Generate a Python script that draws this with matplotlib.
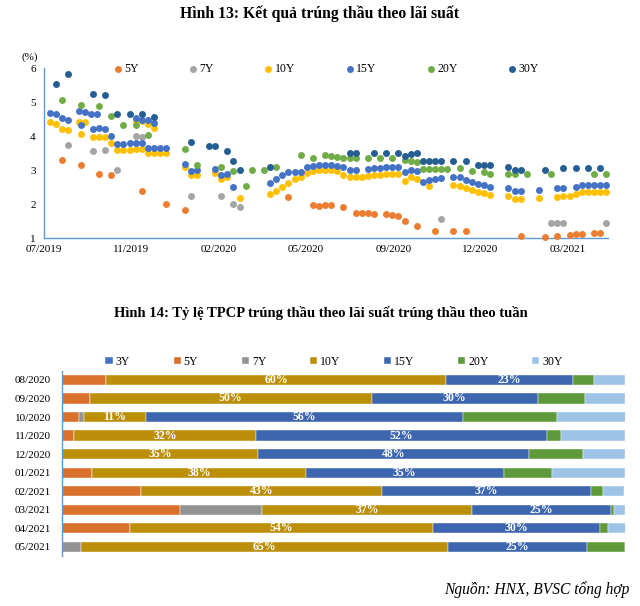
import matplotlib.pyplot as plt
import numpy as np

plt.rcParams['font.family'] = ['Liberation Serif', 'DejaVu Serif']

# ---- Hinh 13: lai suat trung thau (ngay tinh tu 31/07/2019) ----
d5 = [21, 42, 63, 77, 112, 140, 161, 280, 308, 315, 322, 329, 343, 357, 364, 371, 378, 392, 399, 406, 413,
      427, 448, 469, 483, 546, 574, 588, 602, 609, 616, 630, 637]
v5 = [3.30, 3.15, 2.89, 2.84, 2.37, 2.01, 1.81, 2.20, 1.98, 1.93, 1.96, 1.96, 1.92, 1.75, 1.74, 1.73, 1.71,
      1.71, 1.68, 1.64, 1.50, 1.35, 1.22, 1.22, 1.22, 1.07, 1.03, 1.06, 1.08, 1.11, 1.13, 1.16, 1.16]

d7 = [28, 56, 70, 84, 105, 112, 168, 203, 217, 224, 455, 581, 588, 595, 644]
v7 = [3.75, 3.55, 3.58, 3.00, 4.01, 3.96, 2.24, 2.25, 2.01, 1.90, 1.55, 1.45, 1.45, 1.45, 1.45]

d10 = [7, 14, 21, 28, 40, 42, 47, 56, 63, 70, 77, 84, 91, 98, 105, 105, 112, 112, 119, 119, 126, 126, 133, 140,
       161, 168, 175, 196, 203, 210, 224, 259, 266, 273, 280, 287, 294, 301, 308, 315, 322, 329, 336, 343, 350,
       357, 364, 371, 378, 385, 392, 399, 406, 413, 420, 427, 441, 469, 476, 483, 490, 497, 504, 511, 532, 539,
       546, 567, 588, 595, 602, 609, 616, 623, 630, 637, 644]
v10 = [4.42, 4.35, 4.21, 4.19, 4.42, 4.05, 4.41, 3.96, 3.96, 3.96, 3.79, 3.58, 3.59, 3.60, 3.62, 4.44, 3.63,
       4.45, 3.50, 4.35, 3.50, 4.25, 3.50, 3.49, 3.09, 2.86, 2.86, 2.91, 2.74, 2.78, 2.19, 2.28, 2.38, 2.51,
       2.63, 2.74, 2.79, 2.90, 2.96, 2.99, 3.00, 3.00, 2.96, 2.86, 2.78, 2.78, 2.78, 2.81, 2.84, 2.86, 2.88,
       2.88, 2.88, 2.69, 2.78, 2.75, 2.52, 2.55, 2.54, 2.47, 2.42, 2.36, 2.32, 2.27, 2.24, 2.16, 2.16, 2.18,
       2.22, 2.24, 2.25, 2.28, 2.35, 2.36, 2.34, 2.35, 2.35]

d15 = [7, 14, 21, 28, 40, 42, 47, 54, 56, 61, 63, 70, 77, 84, 91, 98, 105, 105, 112, 112, 119, 119, 126, 126,
       133, 140, 161, 168, 175, 196, 203, 210, 217, 259, 266, 273, 280, 287, 294, 301, 308, 315, 322, 329, 336,
       343, 350, 357, 371, 378, 385, 392, 399, 406, 413, 420, 427, 434, 441, 448, 455, 469, 476, 483, 490, 497,
       504, 511, 532, 539, 546, 567, 588, 595, 609, 616, 623, 630, 637, 644]
v15 = [4.69, 4.66, 4.52, 4.47, 4.75, 4.33, 4.71, 4.66, 4.22, 4.66, 4.25, 4.21, 4.01, 3.76, 3.77, 3.78, 3.78,
       4.52, 3.78, 4.48, 3.66, 4.47, 3.66, 4.38, 3.66, 3.66, 3.19, 2.98, 3.00, 3.04, 2.84, 2.88, 2.51, 2.63,
       2.74, 2.85, 2.93, 2.93, 2.95, 3.08, 3.11, 3.15, 3.16, 3.16, 3.12, 3.08, 3.01, 3.01, 3.04, 3.05, 3.07,
       3.08, 3.08, 3.08, 2.95, 3.01, 2.98, 2.65, 2.71, 2.74, 2.76, 2.78, 2.78, 2.71, 2.64, 2.60, 2.56, 2.50,
       2.48, 2.38, 2.38, 2.41, 2.46, 2.48, 2.51, 2.56, 2.56, 2.55, 2.56, 2.56]

d20 = [21, 42, 63, 77, 91, 105, 119, 161, 175, 203, 217, 231, 238, 252, 266, 294, 308, 322, 329, 336, 343,
       350, 357, 371, 385, 399, 413, 420, 427, 434, 441, 448, 455, 462, 476, 490, 504, 511, 532, 539, 553, 581,
       630, 644]
v20 = [5.07, 4.92, 4.89, 4.59, 4.33, 4.33, 4.03, 3.63, 3.15, 3.09, 2.98, 2.53, 3.01, 3.01, 3.10, 3.44, 3.35,
       3.45, 3.42, 3.39, 3.35, 3.35, 3.35, 3.35, 3.35, 3.35, 3.30, 3.26, 3.25, 3.03, 3.03, 3.03, 3.03, 3.03,
       3.05, 2.97, 2.93, 2.89, 2.89, 2.89, 2.89, 2.89, 2.89, 2.89]

d30 = [14, 28, 56, 70, 84, 98, 112, 126, 168, 189, 196, 210, 217, 224, 259, 350, 357, 378, 392, 406, 413, 420,
       427, 434, 441, 448, 455, 469, 483, 497, 504, 511, 532, 539, 546, 574, 595, 609, 623, 637]
v30 = [5.53, 5.81, 5.24, 5.21, 4.66, 4.66, 4.66, 4.57, 3.82, 3.72, 3.71, 3.57, 3.26, 3.01, 3.10, 3.51, 3.51,
       3.51, 3.51, 3.51, 3.40, 3.48, 3.49, 3.26, 3.26, 3.26, 3.26, 3.26, 3.26, 3.16, 3.15, 3.15, 3.10, 3.00,
       3.01, 3.01, 3.05, 3.05, 3.05, 3.05]

nhan_thang = ['07/2019', '11/2019', '02/2020', '05/2020', '09/2020', '12/2020', '03/2021']

# ---- Hinh 14: ty le TPCP trung thau theo ky han (%) ----
thang = ['08/2020', '09/2020', '10/2020', '11/2020', '12/2020',
         '01/2021', '02/2021', '03/2021', '04/2021', '05/2021']
t3 = [0, 0, 0, 0, 0, 0, 0, 0, 0, 0]
t5 = [7.9, 4.9, 3.1, 2.1, 0, 5.4, 14.1, 20.9, 12.0, 0]
t7 = [0, 0, 0.8, 0, 0, 0, 0, 14.6, 0, 3.3]
t10 = [60.3, 50.1, 11.0, 32.4, 34.9, 37.9, 42.8, 37.4, 53.9, 65.3]
t15 = [22.6, 29.5, 56.4, 51.7, 48.0, 35.2, 37.0, 24.6, 29.7, 24.6]
t20 = [3.7, 8.4, 16.6, 2.4, 9.6, 8.5, 2.2, 0.5, 1.4, 6.8]
t30 = [5.5, 7.1, 12.3, 11.4, 7.5, 13.0, 3.8, 2.0, 3.1, 0]

W, H = 640, 606
fig = plt.figure(figsize=(W / 100, H / 100), dpi=100)
axis_blue = '#5B9BD5'

# ======== Hinh 13 ========
fig.text(320 / W, 1 - 14 / H, 'Hình 13: Kết quả trúng thầu theo lãi suất',
         ha='center', va='center', fontsize=11.3, fontweight='bold')

ax1 = fig.add_axes([44 / W, 1 - 238 / H, 564 / W, 170 / H])
scatter_series = [('5Y', d5, v5, '#ED7D31'), ('7Y', d7, v7, '#A5A5A5'),
                  ('10Y', d10, v10, '#FFC000'), ('15Y', d15, v15, '#4472C4'),
                  ('20Y', d20, v20, '#70AD47'), ('30Y', d30, v30, '#255E91')]
for name, d, v, c in scatter_series:
    ax1.scatter(d, v, s=25, color=c, linewidths=0, label=name, clip_on=False, zorder=3)
ax1.set_xlim(0, 646)
ax1.set_ylim(1, 6)
ax1.set_xticks(range(0, 601, 100))
ax1.set_xticklabels(nhan_thang)
ax1.set_yticks(range(1, 7))
ax1.tick_params(length=0, labelsize=8)
ax1.tick_params(axis='y', pad=6)
ax1.tick_params(axis='x', pad=5)
for s in ['top', 'right']:
    ax1.spines[s].set_visible(False)
for s in ['left', 'bottom']:
    ax1.spines[s].set_color(axis_blue)
    ax1.spines[s].set_linewidth(1.0)
fig.text(30 / W, 1 - 57 / H, '(%)', ha='center', va='center', fontsize=8)
ax1.legend(loc='center', bbox_to_anchor=(326 / W, 1 - 69 / H), bbox_transform=fig.transFigure,
           ncol=6, frameon=False, fontsize=8.5, handlelength=0.8, handletextpad=0.15,
           columnspacing=4.2, borderpad=0)

# ======== Hinh 14 ========
fig.text(321 / W, 1 - 313 / H, 'Hình 14: Tỷ lệ TPCP trúng thầu theo lãi suất trúng thầu theo tuần',
         ha='center', va='center', fontsize=10.5, fontweight='bold')

ax2 = fig.add_axes([62 / W, 1 - 556 / H, 563 / W, 185.3 / H])
bar_series = [('3Y', t3, '#4472C4'), ('5Y', t5, '#D9712B'), ('7Y', t7, '#939393'),
              ('10Y', t10, '#BC8F0A'), ('15Y', t15, '#3D66AF'), ('20Y', t20, '#5E9A3A'),
              ('30Y', t30, '#9DC3E6')]
y = np.arange(len(thang))
left = np.zeros(len(thang))
handles = []
for name, vals, c in bar_series:
    vals = np.array(vals, dtype=float)
    bars = ax2.barh(y, vals, left=left, height=0.55, color=c, edgecolor='white', linewidth=0.3, label=name)
    handles.append(bars)
    if name in ('10Y', '15Y'):
        for yi, l, v in zip(y, left, vals):
            ax2.text(l + v / 2, yi, f'{v:.0f}%', ha='center', va='center',
                     color='white', fontsize=8.5, fontweight='bold')
    left += vals
ax2.set_xlim(0, 100)
ax2.set_ylim(9.5, -0.5)
ax2.set_yticks(y)
ax2.set_yticklabels(thang)
ax2.set_xticks([])
ax2.tick_params(length=0, labelsize=8, pad=8)
for s in ['top', 'right', 'bottom']:
    ax2.spines[s].set_visible(False)
ax2.spines['left'].set_color(axis_blue)
ax2.spines['left'].set_linewidth(1.0)
fig.legend(handles=handles, loc='center', bbox_to_anchor=(334 / W, 1 - 361.7 / H), ncol=7,
           frameon=False, fontsize=8.5, handlelength=0.6, handleheight=0.6, handletextpad=0.25,
           columnspacing=3.7, borderpad=0)

fig.text(629 / W, 1 - 590 / H, 'Nguồn: HNX, BVSC tổng hợp', ha='right', va='center',
         fontsize=11.2, style='italic')

fig.savefig('out.png', dpi=100)
